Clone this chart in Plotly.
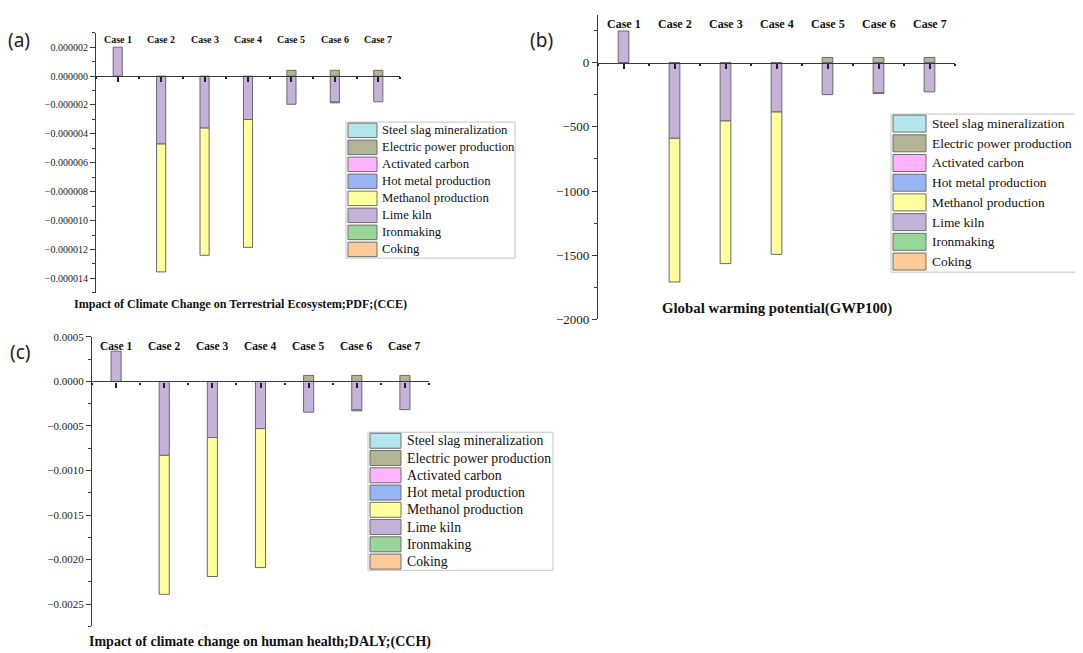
import plotly.graph_objects as go

# ---------------- data ----------------
cases = ["Case 1", "Case 2", "Case 3", "Case 4", "Case 5", "Case 6", "Case 7"]
case_pos = [1, 2, 3, 4, 5, 6, 7]

# legend order (top to bottom)
series_names = ["Steel slag mineralization", "Electric power production", "Activated carbon",
                "Hot metal production", "Methanol production", "Lime kiln", "Ironmaking", "Coking"]
series_colors = ["#b4e6ec", "#b3b493", "#ffb3ff", "#99b4f2", "#ffff9e", "#c5b2d8", "#99d699", "#ffcc99"]

# (a) Impact of Climate Change on Terrestrial Ecosystem (PDF)
cce_lime = [2.0e-6, -4.7e-6, -3.6e-6, -3.0e-6, -1.95e-6, -1.80e-6, -1.78e-6]
cce_methanol = [None, -8.85e-6, -8.8e-6, -8.85e-6, None, None, None]
cce_electric = [None, None, None, None, 0.4e-6, 0.4e-6, 0.4e-6]
cce_slag = [None, None, None, None, None, -0.05e-6, None]

# (b) Global warming potential (GWP100)
gwp_lime = [245, -590, -455, -385, -250, -235, -228]
gwp_methanol = [None, -1118, -1110, -1108, None, None, None]
gwp_electric = [None, None, None, None, 40, 40, 40]
gwp_slag = [None, None, None, None, None, -6, None]

# (c) Impact of climate change on human health (DALY)
cch_lime = [0.00034, -0.00083, -0.00063, -0.00053, -0.000345, -0.00032, -0.000317]
cch_methanol = [None, -0.00156, -0.00156, -0.00156, None, None, None]
cch_electric = [None, None, None, None, 0.000068, 0.000068, 0.000068]
cch_slag = [None, None, None, None, None, -0.00001, None]

titles = ["Impact of Climate Change on Terrestrial Ecosystem;PDF;(CCE)",
          "Global warming potential(GWP100)",
          "Impact of climate change on human health;DALY;(CCH)"]
panel_labels = ["(a)", "(b)", "(c)"]

# ---------------- layout helpers ----------------
W, H = 1083, 653
# page offset / vertical squeeze of the captured page
OFF_X, OFF_Y, SY = 8.0, 14.3, 0.978
def xp(px):
    return (px - OFF_X) / W
def yp(py):
    return 1 - (py / SY - OFF_Y) / H

SERIF = "Liberation Serif, Times New Roman, serif"
AXCOL = "#3a3a3a"
BAR_LINE = "#6a6a6a"

panels = [
    dict(data={"Lime kiln": cce_lime, "Methanol production": cce_methanol,
               "Electric power production": cce_electric, "Steel slag mineralization": cce_slag},
         xpx=(96, 400), ypx=(32.7, 292.7), yrange=(-1.5e-5, 3e-6), dtick=2e-6, minor=1e-6,
         fmt=".6f", tickfont=10, casefont=10, case_y=39, title_xy=(72, 304), titlefont=12.1,
         label_xy=(6, 40), legend=dict(box=(346, 122, 515, 258), sw=(348, 377), pitch=17, swh=14.5,
                                      tx=380, fs=12.7)),
    dict(data={"Lime kiln": gwp_lime, "Methanol production": gwp_methanol,
               "Electric power production": gwp_electric, "Steel slag mineralization": gwp_slag},
         xpx=(598, 955), ypx=(15, 319.3), yrange=(-2000, 370), dtick=500, minor=250,
         fmt="", tickfont=13, casefont=12, case_y=24, title_xy=(660, 308), titlefont=14.8,
         label_xy=(528, 40), legend=dict(box=(891, 114, 1110, 272), sw=(893, 926), pitch=19.7, swh=17,
                                        tx=930, fs=13.4)),
    dict(data={"Lime kiln": cch_lime, "Methanol production": cch_methanol,
               "Electric power production": cch_electric, "Steel slag mineralization": cch_slag},
         xpx=(92, 429), ypx=(336.7, 626), yrange=(-0.00275, 0.0005), dtick=0.0005, minor=0.00025,
         fmt=".4f", tickfont=11, casefont=11.5, case_y=346, title_xy=(87, 642), titlefont=14,
         label_xy=(8, 352), legend=dict(box=(368, 432, 553, 570), sw=(370, 401), pitch=17.25, swh=15,
                                       tx=405, fs=13.8)),
]

fig = go.Figure()
shapes = []
annotations = []

# stacking order: first trace sits nearest to zero
stack_order = ["Coking", "Ironmaking", "Lime kiln", "Methanol production", "Hot metal production",
               "Activated carbon", "Electric power production", "Steel slag mineralization"]
color_of = dict(zip(series_names, series_colors))

for i, p in enumerate(panels):
    sfx = "" if i == 0 else str(i + 1)
    xa, ya = "x" + sfx, "y" + sfx
    for name in stack_order:
        vals = p["data"].get(name)
        if vals is None:
            continue
        fig.add_trace(go.Bar(x=case_pos, y=vals, name=name, width=0.21,
                             marker=dict(color=color_of[name], line=dict(color=BAR_LINE, width=1)),
                             xaxis=xa, yaxis=ya, showlegend=False))
    x0, x1 = p["xpx"]
    ytop, ybot = p["ypx"]
    ymin, ymax = p["yrange"]
    dom_y = [yp(ybot), yp(ytop)]
    zero_pos = dom_y[0] + (0 - ymin) / (ymax - ymin) * (dom_y[1] - dom_y[0])
    xkey = "xaxis" + sfx
    ykey = "yaxis" + sfx
    fig.update_layout(**{
        xkey: dict(domain=[xp(x0), xp(x1)], range=[0.5, 7.5], anchor="free", position=zero_pos,
                   showline=True, linecolor=AXCOL, linewidth=1.2, showgrid=False, zeroline=False,
                   tickmode="array", tickvals=case_pos, showticklabels=False,
                   ticks="outside", ticklen=5, tickwidth=1.5, tickcolor="#222",
                   minor=dict(ticks="outside", ticklen=2, tickwidth=1.5, tickcolor="#222",
                              tick0=0.5, dtick=1),
                   fixedrange=True),
        ykey: dict(domain=dom_y, range=[ymin, ymax], anchor=xa, position=xp(x0),
                   showline=True, linecolor=AXCOL, linewidth=1.2, showgrid=False, zeroline=False,
                   ticks="outside", ticklen=5, tickwidth=1, tickcolor=AXCOL,
                   dtick=p["dtick"], tick0=0, tickformat=p["fmt"],
                   minor=dict(ticks="outside", ticklen=3, tickcolor=AXCOL, dtick=p["minor"], tick0=0),
                   tickfont=dict(family=SERIF, size=p["tickfont"], color="#222"),
                   fixedrange=True),
    })
    # case labels near the top of each panel
    for c, xv in zip(cases, case_pos):
        annotations.append(dict(x=xv, y=yp(p["case_y"]), xref=xa, yref="paper", text="<b>" + c + "</b>",
                                showarrow=False, xanchor="center", yanchor="middle",
                                font=dict(family=SERIF, size=p["casefont"], color="#111")))
    # panel title (below)
    tx, ty = p["title_xy"]
    annotations.append(dict(x=xp(tx), y=yp(ty), xref="paper", yref="paper", text="<b>" + titles[i] + "</b>",
                            showarrow=False, xanchor="left", yanchor="middle",
                            font=dict(family=SERIF, size=p["titlefont"], color="#111")))
    # panel letter
    lx, ly = p["label_xy"]
    annotations.append(dict(x=xp(lx), y=yp(ly), xref="paper", yref="paper", text=panel_labels[i],
                            showarrow=False, xanchor="left", yanchor="middle",
                            font=dict(family="Noto Sans, DejaVu Sans, sans-serif", size=19, color="#222")))
    # legend box
    lg = p["legend"]
    bx0, by0, bx1, by1 = lg["box"]
    shapes.append(dict(type="rect", xref="paper", yref="paper", x0=xp(bx0), x1=xp(bx1),
                       y0=yp(by1), y1=yp(by0), line=dict(color="#c4c4c4", width=1), fillcolor="white",
                       layer="above"))
    for k, (nm, col) in enumerate(zip(series_names, series_colors)):
        top = by0 + 1 + k * lg["pitch"]
        shapes.append(dict(type="rect", xref="paper", yref="paper", x0=xp(lg["sw"][0]), x1=xp(lg["sw"][1]),
                           y0=yp(top + lg["swh"]), y1=yp(top), fillcolor=col,
                           line=dict(color="#6e6e6e", width=1), layer="above"))
        annotations.append(dict(x=xp(lg["tx"]), y=yp(top + lg["swh"] / 2), xref="paper", yref="paper",
                                text=nm, showarrow=False, xanchor="left", yanchor="middle",
                                font=dict(family=SERIF, size=lg["fs"], color="#111")))

fig.update_layout(width=W, height=H, margin=dict(l=0, r=0, t=0, b=0),
                  paper_bgcolor="white", plot_bgcolor="white", barmode="relative",
                  showlegend=False, shapes=shapes, annotations=annotations)

fig.write_html("out.html")
